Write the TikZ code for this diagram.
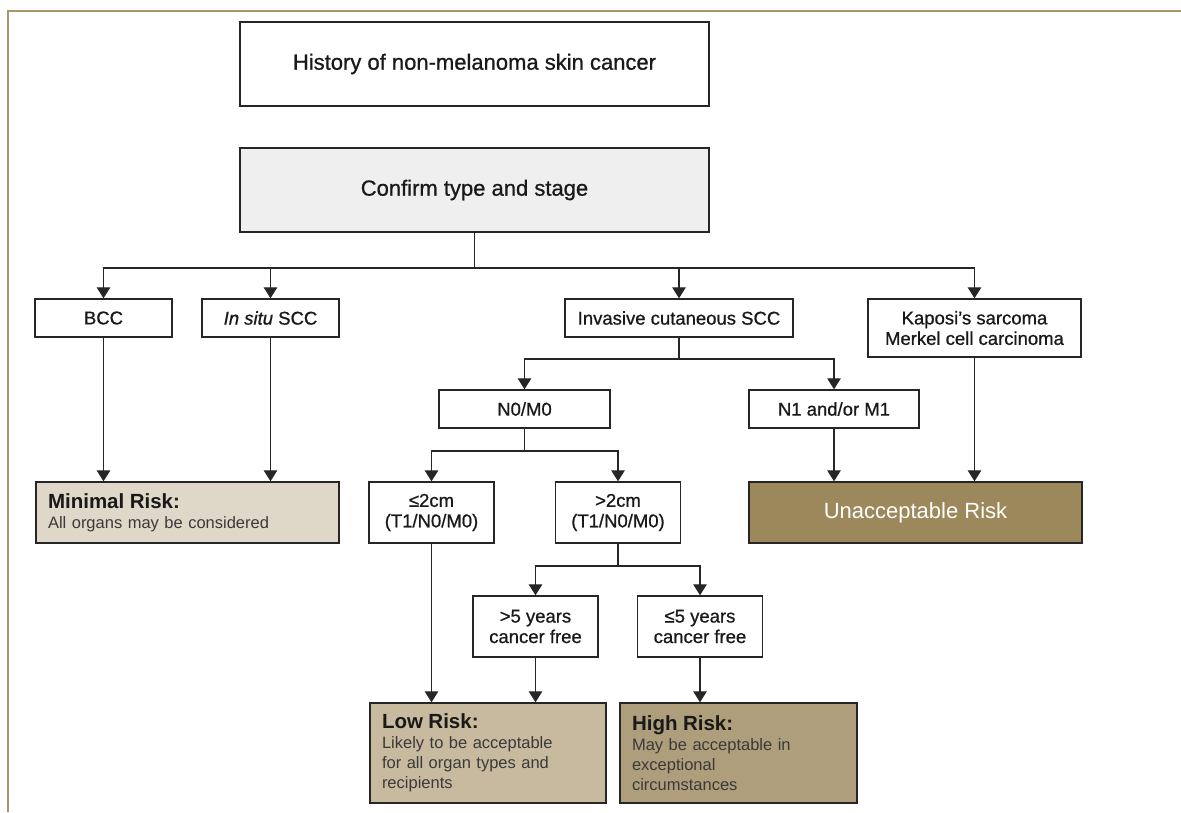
\documentclass[tikz,border=0pt]{standalone}
\usepackage{fontspec}
\setmainfont{Liberation Sans}
\newfontfamily\medfont{Liberation Sans}[FakeBold=0.8]
\usetikzlibrary{arrows.meta}

\definecolor{framecol}{HTML}{A8966B}
\definecolor{linecol}{HTML}{262626}
\definecolor{confcol}{HTML}{EEEFEE}
\definecolor{mincol}{HTML}{DFD7C8}
\definecolor{lowcol}{HTML}{C8BA9E}
\definecolor{highcol}{HTML}{AF9E7B}
\definecolor{unacccol}{HTML}{9D885B}
\definecolor{bodycol}{HTML}{3A3A3A}

\newcommand{\riskhead}[1]{{\fontsize{20.5}{20}\selectfont\bfseries\color{black!90}#1}}

\begin{document}
\begin{tikzpicture}[x=1pt, y=-1pt]
      \tikzset{>={Triangle[width=13.5pt,length=11pt]}}
      \tikzset{
        box/.style={draw=linecol, line width=1.4pt, text=black!90, align=center, inner sep=0pt,
          minimum height=38pt, font=\medfont\fontsize{18.5}{20.5}\selectfont},
        bigbox/.style={box, minimum width=469pt, minimum height=84pt, font=\medfont\fontsize{22}{24}\selectfont},
        smallbox/.style={box, minimum width=125pt, minimum height=61pt},
        riskbox/.style={box, align=left, text width=#1, inner xsep=12pt, minimum height=61pt,
          text=bodycol, font=\fontsize{16.5}{20}\selectfont},
        link/.style={draw=linecol, line width=1.3pt},
      }
      \useasboundingbox (0,0) rectangle (1181,812);
      \draw[framecol, line width=2.5pt] (8,812) -- (8,11) -- (1181,11);

      \node[bigbox] (hist) at (474.5,64) {History of non-melanoma skin cancer};
      \node[bigbox, fill=confcol] (conf) at (474.5,190) {Confirm type and stage};

      \node[box, minimum width=137pt] (bcc) at (103.5,318) {BCC};
      \node[box, minimum width=137pt] (insitu) at (270.5,318) {\textit{In situ} SCC};
      \node[box, minimum width=228pt] (inv) at (679,318) {Invasive cutaneous SCC};
      \node[box, minimum width=213pt, minimum height=58pt] (kap) at (974.5,328) {Kaposi’s sarcoma\\Merkel cell carcinoma};

      \node[box, minimum width=171pt] (n0) at (524.5,409) {N0/M0};
      \node[box, minimum width=170pt] (n1) at (834,409) {N1 and/or M1};

      \node[smallbox] (le2) at (431.5,512.5) {≤2cm\\(T1/N0/M0)};
      \node[smallbox] (gt2) at (618,512.5) {>2cm\\(T1/N0/M0)};
      \node[smallbox] (gt5) at (535.5,626.5) {>5 years\\cancer free};
      \node[smallbox] (le5) at (700,626.5) {≤5 years\\cancer free};

      \node[riskbox=279pt, fill=mincol] (minimal) at (187.5,512.5) {\riskhead{Minimal Risk:}\\All organs may be considered};
      \node[box, minimum width=333pt, minimum height=61pt, fill=unacccol, text=white,
        font=\fontsize{22}{24}\selectfont] (unacc) at (915.5,512.5) {Unacceptable Risk};
      \node[riskbox=212pt, fill=lowcol, minimum height=100pt] (low) at (488,753)
        {\riskhead{Low Risk:}\\Likely to be acceptable\\for all organ types and\\recipients};
      \node[riskbox=213pt, fill=highcol, minimum height=100pt] (high) at (738.5,753)
        {\riskhead{High Risk:}\\May be acceptable in\\exceptional\\circumstances};

      \coordinate (j1) at (474.5,268);
      \coordinate (j2) at (679,359);
      \coordinate (j3) at (524.5,451);
      \coordinate (j4) at (618,566);

      \draw[link] (conf) -- (j1);
      \draw[link] (inv) -- (j2);
      \draw[link] (n0) -- (j3);
      \draw[link] (gt2) -- (j4);

      \foreach \from/\to in {j1/bcc, j1/insitu, j1/inv, j1/kap, j2/n0, j2/n1, j3/le2, j3/gt2, j4/gt5, j4/le5} {
          \draw[link, ->] (\from) -| (\to);
          }
      \foreach \from/\to in {bcc/minimal, insitu/minimal, n1/unacc, kap/unacc, le2/low, gt5/low, le5/high} {
          \draw[link, ->] (\from) -- (\from |- \to.north);
          }
\end{tikzpicture}
\end{document}
